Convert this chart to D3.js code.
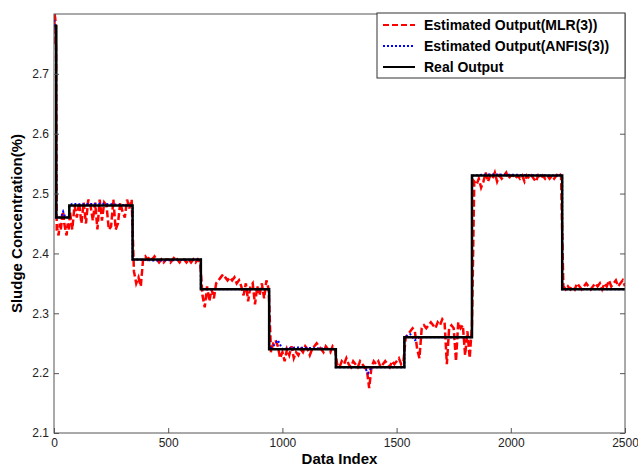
<!DOCTYPE html>
<html>
<head>
<meta charset="utf-8">
<script src="https://cdn.jsdelivr.net/npm/d3@7"></script>
<style>
  body { margin: 0; background: #fff; }
  svg { display: block; font-family: "Liberation Sans", Arial, sans-serif; }
</style>
</head>
<body>
<div id="chart"></div>
<script>
// Real output: [start index, level], held until next step
var realSteps = [
  [0, 2.78], [10, 2.46], [67, 2.48], [344, 2.39], [643, 2.34],
  [942, 2.24], [1234, 2.21], [1534, 2.26], [1830, 2.53], [2225, 2.34], [2500, 2.34]
];

// MLR(3) estimate: [index, value]
var mlrPoints = [
  [0, 2.75], [3, 2.80], [6, 2.79], [9, 2.74], [12, 2.44],
  [15, 2.44], [20, 2.43], [25, 2.45], [30, 2.44], [35, 2.46], [40, 2.47], [45, 2.45],
  [50, 2.44], [55, 2.43], [60, 2.45], [65, 2.44],
  [70, 2.47], [80, 2.44], [90, 2.48], [100, 2.46], [110, 2.485], [120, 2.45], [130, 2.485],
  [140, 2.45], [150, 2.49], [160, 2.48], [170, 2.455], [180, 2.485], [190, 2.44], [200, 2.49],
  [210, 2.455], [220, 2.485], [230, 2.48], [240, 2.44], [250, 2.445], [260, 2.49], [270, 2.44],
  [280, 2.45], [290, 2.485], [300, 2.47], [310, 2.46], [320, 2.49], [330, 2.475], [340, 2.49],
  [350, 2.37], [360, 2.35], [370, 2.36], [380, 2.345], [390, 2.39], [400, 2.395], [410, 2.39],
  [420, 2.395], [430, 2.39], [440, 2.395], [450, 2.39], [460, 2.385], [470, 2.39], [480, 2.385],
  [490, 2.39], [500, 2.39], [510, 2.385], [520, 2.39], [530, 2.395], [540, 2.39], [550, 2.385],
  [560, 2.39], [570, 2.39], [580, 2.385], [590, 2.39], [600, 2.385], [610, 2.39], [620, 2.385],
  [630, 2.39], [640, 2.385],
  [650, 2.33], [660, 2.31], [670, 2.345], [680, 2.32], [690, 2.34], [700, 2.325], [710, 2.35],
  [720, 2.355], [730, 2.36], [740, 2.365], [750, 2.36], [760, 2.355], [770, 2.36], [780, 2.355],
  [790, 2.36], [800, 2.35], [810, 2.355], [820, 2.345], [830, 2.33], [840, 2.35], [850, 2.32],
  [860, 2.345], [870, 2.35], [880, 2.315], [890, 2.345], [900, 2.33], [910, 2.35], [920, 2.325],
  [930, 2.355], [940, 2.34],
  [950, 2.235], [960, 2.25], [970, 2.255], [980, 2.245], [990, 2.225], [1000, 2.235], [1010, 2.22],
  [1020, 2.24], [1030, 2.23], [1040, 2.245], [1050, 2.225], [1060, 2.235], [1070, 2.23], [1080, 2.24],
  [1090, 2.235], [1100, 2.245], [1110, 2.24], [1120, 2.23], [1130, 2.24], [1140, 2.245], [1150, 2.25],
  [1160, 2.245], [1170, 2.24], [1180, 2.235], [1190, 2.245], [1200, 2.24], [1210, 2.235], [1220, 2.245],
  [1230, 2.24],
  [1240, 2.215], [1250, 2.21], [1260, 2.22], [1270, 2.215], [1280, 2.225], [1290, 2.215], [1300, 2.21],
  [1310, 2.22], [1320, 2.215], [1330, 2.21], [1340, 2.22], [1350, 2.215], [1360, 2.21], [1370, 2.205],
  [1380, 2.175], [1390, 2.21], [1400, 2.22], [1410, 2.215], [1420, 2.22], [1430, 2.21], [1440, 2.215],
  [1450, 2.22], [1460, 2.215], [1470, 2.21], [1480, 2.22], [1490, 2.215], [1500, 2.22], [1510, 2.225],
  [1520, 2.215], [1530, 2.22],
  [1540, 2.26], [1550, 2.265], [1560, 2.27], [1570, 2.275], [1580, 2.27], [1590, 2.24], [1600, 2.225],
  [1610, 2.275], [1620, 2.28], [1630, 2.275], [1640, 2.28], [1650, 2.285], [1660, 2.28], [1670, 2.275],
  [1680, 2.285], [1690, 2.28], [1700, 2.29], [1710, 2.285], [1720, 2.215], [1730, 2.275], [1740, 2.28],
  [1750, 2.275], [1760, 2.22], [1770, 2.285], [1780, 2.275], [1790, 2.28], [1800, 2.23], [1810, 2.27],
  [1820, 2.225], [1830, 2.28],
  [1840, 2.52], [1850, 2.515], [1860, 2.525], [1870, 2.51], [1880, 2.52], [1890, 2.535], [1900, 2.52],
  [1910, 2.53], [1920, 2.525], [1930, 2.535], [1940, 2.52], [1950, 2.53], [1960, 2.525], [1970, 2.53],
  [1980, 2.535], [1990, 2.525], [2000, 2.53], [2010, 2.53], [2020, 2.525], [2030, 2.53], [2040, 2.525],
  [2050, 2.53], [2060, 2.52], [2070, 2.53], [2080, 2.525], [2090, 2.53], [2100, 2.525], [2110, 2.52],
  [2120, 2.53], [2130, 2.525], [2140, 2.53], [2150, 2.525], [2160, 2.53], [2170, 2.525], [2180, 2.53],
  [2190, 2.525], [2200, 2.53], [2210, 2.535], [2220, 2.53],
  [2230, 2.345], [2240, 2.34], [2250, 2.345], [2260, 2.34], [2270, 2.345], [2280, 2.34], [2290, 2.35],
  [2300, 2.345], [2310, 2.34], [2320, 2.345], [2330, 2.35], [2340, 2.345], [2350, 2.34], [2360, 2.345],
  [2370, 2.35], [2380, 2.345], [2390, 2.35], [2400, 2.34], [2410, 2.35], [2420, 2.345], [2430, 2.355],
  [2440, 2.345], [2450, 2.35], [2460, 2.355], [2470, 2.345], [2480, 2.35], [2490, 2.355], [2500, 2.345]
];

// ANFIS(3) estimate: [index, value]
var anfisPoints = [
  [0, 2.79], [4, 2.78], [8, 2.77], [10, 2.46], [30, 2.46], [40, 2.47], [50, 2.46], [65, 2.46],
  [67, 2.48], [80, 2.483], [120, 2.482], [200, 2.483], [260, 2.482], [344, 2.48], [344, 2.39],
  [450, 2.388], [643, 2.39], [643, 2.34], [942, 2.34], [942, 2.24], [960, 2.245], [980, 2.255],
  [1000, 2.24], [1060, 2.243], [1234, 2.24], [1234, 2.21], [1360, 2.21], [1375, 2.2], [1390, 2.21],
  [1534, 2.21], [1534, 2.26], [1560, 2.265], [1580, 2.255], [1600, 2.26], [1830, 2.26], [1830, 2.53],
  [1900, 2.532], [2225, 2.53], [2225, 2.34], [2500, 2.34]
];

var xTicks = [0, 500, 1000, 1500, 2000, 2500];
var yTicks = [2.1, 2.2, 2.3, 2.4, 2.5, 2.6, 2.7];
var legendLabels = ['Estimated Output(MLR(3))', 'Estimated Output(ANFIS(3))', 'Real Output'];

var W = 638, H = 467;
var m = { left: 54, right: 13, top: 14, bottom: 34 };

var svg = d3.select('#chart').append('svg')
  .attr('width', W).attr('height', H);

var x = d3.scaleLinear().domain([0, 2500]).range([m.left, W - m.right]);
var y = d3.scaleLinear().domain([2.1, 2.8]).range([H - m.bottom, m.top]);

svg.append('clipPath').attr('id', 'clip')
  .append('rect')
  .attr('x', m.left).attr('y', m.top)
  .attr('width', W - m.left - m.right).attr('height', H - m.top - m.bottom);

var plot = svg.append('g').attr('clip-path', 'url(#clip)');

var line = d3.line()
  .x(function (d) { return x(d[0]); })
  .y(function (d) { return y(d[1]); });

plot.append('path')
  .datum(mlrPoints)
  .attr('d', line)
  .attr('fill', 'none')
  .attr('stroke', '#ff0000')
  .attr('stroke-width', 2.5)
  .attr('stroke-dasharray', '7,3');

plot.append('path')
  .datum(anfisPoints)
  .attr('d', line)
  .attr('fill', 'none')
  .attr('stroke', '#0000ff')
  .attr('stroke-width', 2)
  .attr('stroke-dasharray', '2,2');

plot.append('path')
  .datum(realSteps)
  .attr('d', line.curve(d3.curveStepAfter))
  .attr('fill', 'none')
  .attr('stroke', '#000')
  .attr('stroke-width', 2.5);

// axes, MATLAB style with inward ticks
var axisColor = '#555';

var xAxis = svg.append('g')
  .attr('transform', 'translate(0,' + (H - m.bottom) + ')')
  .call(d3.axisBottom(x).tickValues(xTicks).tickSize(-5).tickPadding(5).tickFormat(d3.format('d')));

var yAxis = svg.append('g')
  .attr('transform', 'translate(' + m.left + ',0)')
  .call(d3.axisLeft(y).tickValues(yTicks).tickSize(-5).tickPadding(5).tickFormat(d3.format('.1f')));

[xAxis, yAxis].forEach(function (a) {
  a.select('.domain').remove();
  a.selectAll('line').attr('stroke', axisColor);
  a.selectAll('text')
    .attr('fill', '#222')
    .style('font-size', '12px')
    .style('font-family', '"Liberation Sans", Arial, sans-serif');
});

// right-side ticks
svg.append('g')
  .attr('transform', 'translate(' + (W - m.right) + ',0)')
  .call(d3.axisRight(y).tickValues(yTicks).tickSize(-5).tickFormat(''))
  .call(function (g) { g.select('.domain').remove(); g.selectAll('line').attr('stroke', axisColor); });

svg.append('rect')
  .attr('x', m.left).attr('y', m.top)
  .attr('width', W - m.left - m.right).attr('height', H - m.top - m.bottom)
  .attr('fill', 'none')
  .attr('stroke', axisColor)
  .attr('stroke-width', 1);

svg.append('text')
  .attr('x', (m.left + W - m.right) / 2)
  .attr('y', 464)
  .attr('text-anchor', 'middle')
  .style('font-size', '15px')
  .style('font-weight', 'bold')
  .text('Data Index');

svg.append('text')
  .attr('transform', 'translate(22,' + ((m.top + H - m.bottom) / 2) + ') rotate(-90)')
  .attr('text-anchor', 'middle')
  .style('font-size', '15px')
  .style('font-weight', 'bold')
  .text('Sludge Concentration(%)');

// legend
var lg = svg.append('g').attr('transform', 'translate(377,13)');
lg.append('rect')
  .attr('width', 248).attr('height', 65)
  .attr('fill', '#fff')
  .attr('stroke', '#333')
  .attr('stroke-width', 1);

var legendStyles = [
  { color: '#ff0000', dash: '6,3' },
  { color: '#0000ff', dash: '2,2' },
  { color: '#000', dash: null }
];

legendLabels.forEach(function (label, i) {
  var ry = 12 + i * 21;
  lg.append('line')
    .attr('x1', 6).attr('x2', 38)
    .attr('y1', ry).attr('y2', ry)
    .attr('stroke', legendStyles[i].color)
    .attr('stroke-width', 2)
    .attr('stroke-dasharray', legendStyles[i].dash);
  lg.append('text')
    .attr('x', 47).attr('y', ry + 5)
    .style('font-size', '14px')
    .style('font-weight', 'bold')
    .text(label);
});
</script>
</body>
</html>
